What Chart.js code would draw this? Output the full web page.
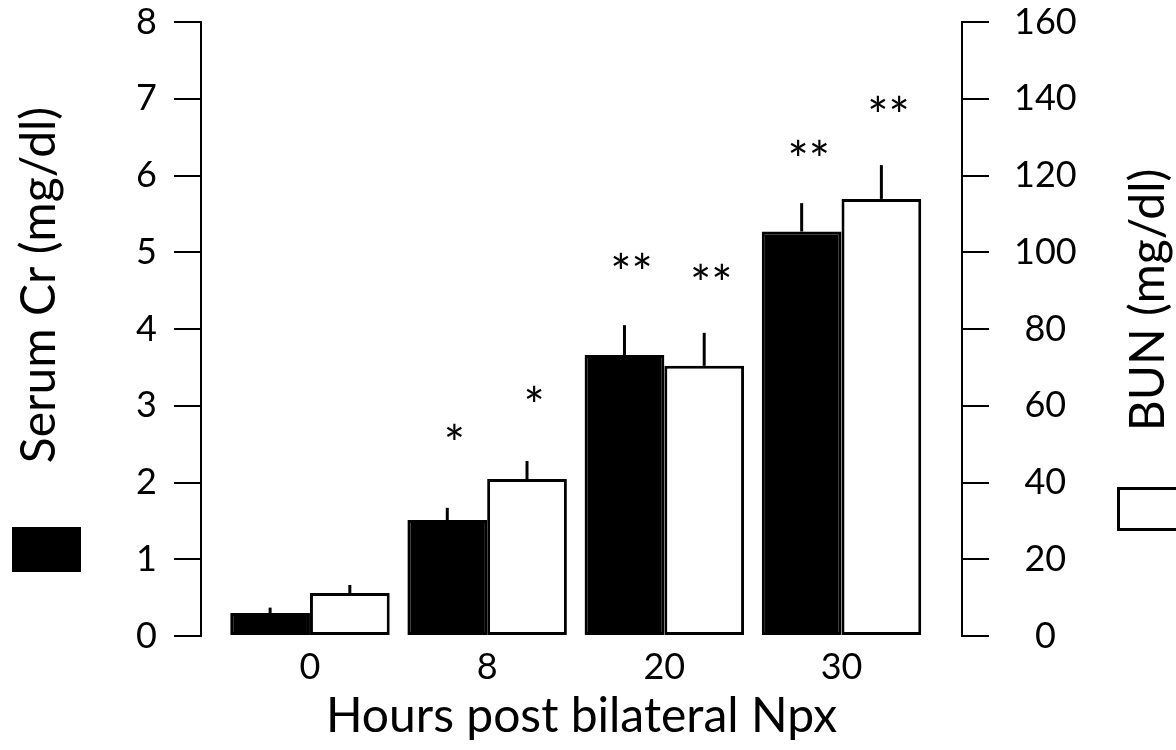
<!DOCTYPE html>
<html>
<head>
<meta charset="utf-8">
<script src="https://cdn.jsdelivr.net/npm/chart.js@4.4.1/dist/chart.umd.min.js"></script>
<style>
  html, body { margin: 0; padding: 0; background: #fff; }
</style>
</head>
<body>
<canvas id="grafico" width="1176" height="750"></canvas>
<script>
// Horas post nefrectomía bilateral (categorías del eje x)
const horas = ['0', '8', '20', '30'];
// Creatinina sérica (mg/dl), eje izquierdo
const creatinina = [0.30, 1.51, 3.66, 5.27];
const creatininaError = [0.07, 0.16, 0.39, 0.37];
// BUN (mg/dl), eje derecho
const bun = [11.2, 40.9, 70.4, 113.9];
const bunError = [2.1, 4.7, 8.6, 8.8];
// Marcas de significancia y la altura donde van (en unidades de cada eje)
const marcasCreatinina = ['', '*', '**', '**'];
const alturaMarcasCreatinina = [null, 2.62, 4.85, 6.32];
const marcasBun = ['', '*', '**', '**'];
const alturaMarcasBun = [null, 62.3, 94.3, 137.9];
// Ticks de los ejes
const ticksCreatinina = [0, 1, 2, 3, 4, 5, 6, 7, 8];
const ticksBun = [0, 20, 40, 60, 80, 100, 120, 140, 160];

const FUENTE = 'Lato';
const fuenteTicks = { family: FUENTE, size: 36 };
const fuenteTitulos = { family: FUENTE, size: 48 };
const TAM_MARCA = 50;

// Errores y asteriscos por dataset
const extras = [
    { errores: creatininaError, marcas: marcasCreatinina, alturas: alturaMarcasCreatinina },
    { errores: bunError, marcas: marcasBun, alturas: alturaMarcasBun }
];

// Plugin para dibujar las barras de error (solo hacia arriba) y los asteriscos
const pluginErrores = {
    id: 'errores',
    afterDatasetsDraw(chart) {
        const ctx = chart.ctx;
        chart.data.datasets.forEach((ds, i) => {
            const meta = chart.getDatasetMeta(i);
            const escala = chart.scales[ds.yAxisID];
            const extra = extras[i];
            meta.data.forEach((barra, j) => {
                const valor = ds.data[j].y;
                const tope = escala.getPixelForValue(valor + extra.errores[j]);
                ctx.save();
                ctx.strokeStyle = '#000';
                ctx.lineWidth = 3;
                ctx.beginPath();
                ctx.moveTo(barra.x, barra.y);
                ctx.lineTo(barra.x, tope);
                ctx.stroke();
                if (extra.marcas[j]) {
                    ctx.font = `${TAM_MARCA}px ${FUENTE}`;
                    ctx.fillStyle = '#000';
                    ctx.textAlign = 'center';
                    ctx.textBaseline = 'alphabetic';
                    const y = escala.getPixelForValue(extra.alturas[j]);
                    // el asterisco queda alto en la caja del texto, se baja la línea base
                    ctx.fillText(extra.marcas[j], barra.x + 7, y + TAM_MARCA * 0.55);
                }
                ctx.restore();
            });
        });
    }
};

// Plugin para los títulos de los ejes y y las cajas de leyenda
const pluginTitulos = {
    id: 'titulos',
    afterDraw(chart) {
        const ctx = chart.ctx;
        const escribir = (texto, x, y) => {
            ctx.save();
            ctx.translate(x, y);
            ctx.rotate(-Math.PI / 2);
            ctx.font = `${fuenteTitulos.size}px ${FUENTE}`;
            ctx.fillStyle = '#000';
            ctx.textAlign = 'center';
            ctx.textBaseline = 'middle';
            ctx.fillText(texto, 0, 0);
            ctx.restore();
        };
        escribir('Serum Cr (mg/dl)', 40, 285);
        escribir('BUN (mg/dl)', 1149, 300);

        ctx.save();
        ctx.fillStyle = '#000';
        ctx.fillRect(12, 527, 69, 45);
        ctx.fillStyle = '#fff';
        ctx.strokeStyle = '#000';
        ctx.lineWidth = 3;
        ctx.fillRect(1118.5, 488.5, 62, 41);
        ctx.strokeRect(1118.5, 488.5, 62, 41);
        ctx.restore();
    }
};

// El padding de los ticks no debe empujar el área del gráfico hacia abajo
function ajustarEjeY(ancho) {
    return s => {
        s.width = ancho;
        s.paddingTop = 22;
    };
}

const ctx = document.getElementById('grafico').getContext('2d');
const grafico = new Chart(ctx, {
    type: 'bar',
    data: {
        datasets: [{
            label: 'Serum Cr (mg/dl)',
            data: creatinina.map((v, i) => ({ x: i, y: v })),
            backgroundColor: '#000',
            borderColor: '#000',
            borderWidth: 3,
            borderSkipped: false,
            yAxisID: 'y',
            categoryPercentage: 0.9,
            barPercentage: 1
        }, {
            label: 'BUN (mg/dl)',
            data: bun.map((v, i) => ({ x: i, y: v })),
            backgroundColor: '#fff',
            borderColor: '#000',
            borderWidth: 3,
            borderSkipped: false,
            yAxisID: 'y2',
            categoryPercentage: 0.9,
            barPercentage: 1
        }]
    },
    options: {
        responsive: false,
        animation: false,
        devicePixelRatio: 1,
        layout: { padding: 0 },
        plugins: {
            legend: { display: false },
            tooltip: { enabled: false }
        },
        scales: {
            x: {
                type: 'linear',
                offset: false,
                min: -0.615,
                max: 3.68,
                afterBuildTicks: s => { s.ticks = horas.map((h, i) => ({ value: i })); },
                afterFit: s => { s.height = 114; },
                ticks: {
                    callback: v => horas[v],
                    font: fuenteTicks,
                    color: '#000',
                    padding: 2,
                    maxRotation: 0,
                    autoSkip: false
                },
                grid: { display: false },
                border: { display: false },
                title: {
                    display: true,
                    text: 'Hours post bilateral Npx',
                    font: fuenteTitulos,
                    color: '#000',
                    padding: { top: 0, bottom: 5 }
                }
            },
            y: {
                position: 'left',
                min: 0,
                max: 8,
                afterBuildTicks: s => { s.ticks = ticksCreatinina.map(v => ({ value: v })); },
                afterFit: ajustarEjeY(201),
                ticks: { font: fuenteTicks, color: '#000', padding: 17 },
                grid: { drawOnChartArea: false, tickLength: 27, color: '#000', lineWidth: 2 },
                border: { color: '#000', width: 2 }
            },
            y2: {
                position: 'right',
                min: 0,
                max: 160,
                afterBuildTicks: s => { s.ticks = ticksBun.map(v => ({ value: v })); },
                afterFit: ajustarEjeY(214),
                ticks: { font: fuenteTicks, color: '#000', padding: 25, crossAlign: 'center' },
                grid: { drawOnChartArea: false, tickLength: 27, color: '#000', lineWidth: 2 },
                border: { color: '#000', width: 2 }
            }
        }
    },
    plugins: [pluginErrores, pluginTitulos]
});
</script>
</body>
</html>
